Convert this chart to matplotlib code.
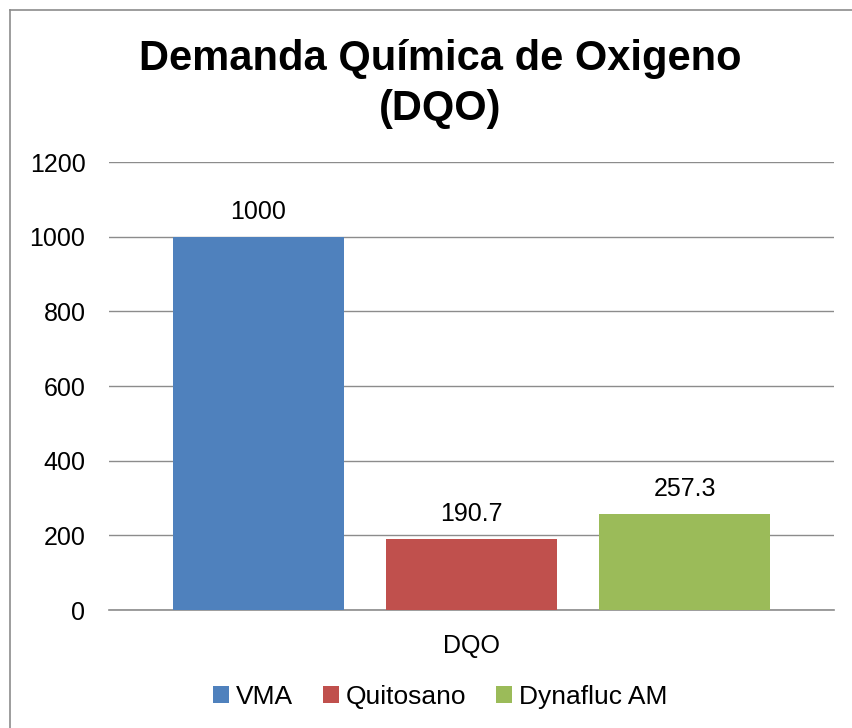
import matplotlib
matplotlib.use("Agg")
import matplotlib.pyplot as plt
from matplotlib.lines import Line2D

plt.rcParams["font.family"] = ["Liberation Sans", "DejaVu Sans"]

# --- data ------------------------------------------------------------------
category = "DQO"
series = ["VMA", "Quitosano", "Dynafluc AM"]
values = [1000, 190.7, 257.3]
labels = ["1000", "190.7", "257.3"]
colors = ["#4F81BD", "#C0504D", "#9BBB59"]
yticks = [0, 200, 400, 600, 800, 1000, 1200]

W, H = 852, 728
fig = plt.figure(figsize=(W / 100, H / 100), dpi=100)
ax = fig.add_axes([109 / W, 1 - 610 / H, (834 - 109) / W, (610 - 162) / H])

bar_w, gap = 0.236, 0.058
for i, (name, v, lab, c) in enumerate(zip(series, values, labels, colors)):
    off = (i - 1) * (bar_w + gap)
    bars = ax.bar(off, v, width=bar_w, color=c, label=name, zorder=3)
    ax.bar_label(bars, labels=[lab], padding=9, fontsize=18)

ax.set_xlim(-0.5, 0.5)
ax.set_ylim(0, 1200)
ax.set_yticks(yticks)
ax.set_xticks([0])
ax.set_xticklabels([category])
ax.tick_params(axis="y", length=0, pad=17, labelsize=18)
ax.tick_params(axis="x", length=0, pad=17, labelsize=18)
ax.yaxis.grid(True, color="#8c8c8c", lw=1)
ax.set_axisbelow(True)
for s in ["left", "right", "top"]:
    ax.spines[s].set_visible(False)
ax.spines["bottom"].set_color("#8c8c8c")
ax.spines["bottom"].set_linewidth(1.2)

fig.text(440 / W, 1 - 84 / H, "Demanda Química de Oxigeno\n(DQO)",
         ha="center", va="center", fontsize=30, fontweight="bold",
         linespacing=1.32)

fig.legend(loc="center", bbox_to_anchor=(440 / W, 1 - 697 / H), ncol=3,
           frameon=False, fontsize=19, handlelength=0.6, handleheight=0.6,
           handletextpad=0.25, columnspacing=1.15)

# chart-area border (only top and left edges visible in the crop)
bx, by = 9.5 / W, 1 - 10 / H
fig.add_artist(Line2D([bx, bx], [0, by], color="#8c8c8c", lw=1.2,
                      transform=fig.transFigure))
fig.add_artist(Line2D([bx, 1], [by, by], color="#8c8c8c", lw=1.2,
                      transform=fig.transFigure))

fig.savefig("out.png", dpi=100)
